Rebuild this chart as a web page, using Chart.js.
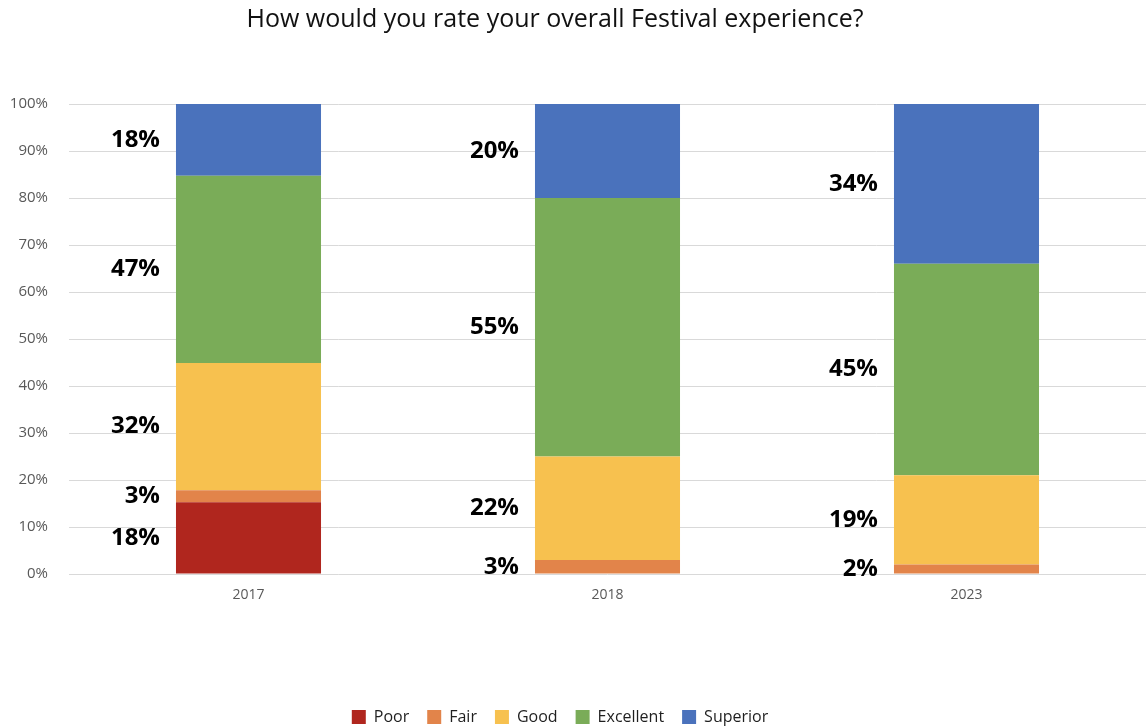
<!DOCTYPE html>
<html>
<head>
<meta charset="utf-8">
<script src="https://cdn.jsdelivr.net/npm/chart.js@4/dist/chart.umd.min.js"></script>
<style>
  html, body { margin: 0; padding: 0; background: #fff; }
</style>
</head>
<body>
<canvas id="grafico" width="1146" height="728"></canvas>
<script>
// Respuestas por año (número tal como aparece en cada etiqueta)
const years = ['2017', '2018', '2023'];
const poor = [18, 0, 0];
const fair = [3, 3, 2];
const good = [32, 22, 19];
const excellent = [47, 55, 45];
const superior = [18, 20, 34];

const seriesNames = ['Poor', 'Fair', 'Good', 'Excellent', 'Superior'];
const seriesValues = [poor, fair, good, excellent, superior];
const seriesColors = ['#b0261e', '#e2844a', '#f7c14f', '#7aac58', '#4a72bc'];
const yTicks = [0, 10, 20, 30, 40, 50, 60, 70, 80, 90, 100];

const FONT = '"Open Sans", Lato, sans-serif';

// Apilado al 100%: cada barra se reparte según el total de su año
const totals = years.map((_, i) => seriesValues.reduce((s, arr) => s + arr[i], 0));

const datasets = seriesNames.map((name, k) => ({
    label: name,
    data: seriesValues[k].map((v, i) => v / totals[i] * 100),
    raw: seriesValues[k],
    backgroundColor: seriesColors[k],
    borderWidth: 0,
    barPercentage: 1,
    categoryPercentage: 0.404
}));

// Etiquetas en negrita a la izquierda de cada segmento
const etiquetasIzquierda = {
    id: 'etiquetasIzquierda',
    afterDatasetsDraw(chart) {
        const ctx = chart.ctx;
        ctx.save();
        ctx.font = 'bold 24px ' + FONT;
        ctx.fillStyle = '#000';
        ctx.textAlign = 'right';
        ctx.textBaseline = 'middle';
        chart.data.datasets.forEach((ds, k) => {
            const meta = chart.getDatasetMeta(k);
            meta.data.forEach((bar, i) => {
                const v = ds.raw[i];
                if (!v) return;
                const y = (bar.y + bar.base) / 2;
                ctx.fillText(v + '%', bar.x - bar.width / 2 - 16, y);
            });
        });
        ctx.restore();
    }
};

// Ajuste fino de título y leyenda
const moverBloques = {
    id: 'moverBloques',
    afterLayout(chart) {
        chart.legend.top += 7;
        chart.legend.bottom += 7;
        chart.legend.left -= 13;
        chart.legend.right -= 13;
        chart.titleBlock.left -= 18;
        chart.titleBlock.right -= 18;
    }
};

new Chart(document.getElementById('grafico').getContext('2d'), {
    type: 'bar',
    data: { labels: years, datasets: datasets },
    options: {
        responsive: false,
        animation: false,
        layout: { padding: { left: 0, right: 0, top: 0, bottom: 0 } },
        plugins: {
            title: {
                display: true,
                text: 'How would you rate your overall Festival experience?',
                color: '#111',
                font: { family: FONT, size: 25, weight: 'normal' },
                padding: { top: 5, bottom: 69 }
            },
            legend: {
                position: 'bottom',
                labels: {
                    boxWidth: 14,
                    boxHeight: 14,
                    padding: 18,
                    color: '#1f1f1f',
                    font: { family: FONT, size: 16 }
                }
            },
            tooltip: { enabled: false }
        },
        scales: {
            x: {
                stacked: true,
                grid: { display: false },
                border: { display: false },
                ticks: {
                    color: '#595959',
                    padding: 5,
                    font: { family: FONT, size: 14 }
                },
                afterFit(scale) { scale.height = 110; }
            },
            y: {
                stacked: true,
                min: 0,
                max: 100,
                afterBuildTicks(scale) { scale.ticks = yTicks.map(v => ({ value: v })); },
                grid: { color: '#d9d9d9', drawTicks: false },
                border: { display: false },
                ticks: {
                    color: '#595959',
                    padding: 21,
                    font: { family: FONT, size: 15 },
                    callback: v => v + '%'
                },
                afterFit(scale) { scale.width = 69; }
            }
        }
    },
    plugins: [etiquetasIzquierda, moverBloques]
});
</script>
</body>
</html>
